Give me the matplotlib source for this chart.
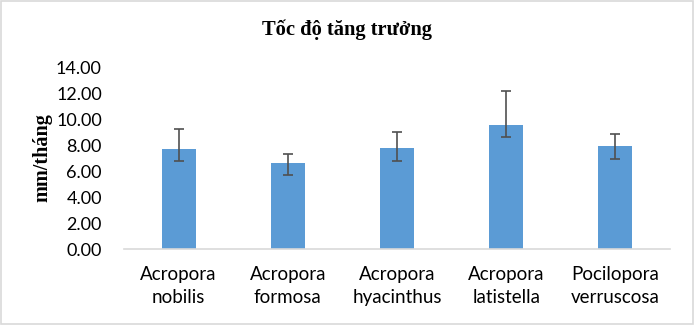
import matplotlib
matplotlib.use("Agg")
import matplotlib.pyplot as plt
from matplotlib.patches import Rectangle
import numpy as np

categories = ["Acropora\nnobilis", "Acropora\nformosa", "Acropora\nhyacinthus",
              "Acropora\nlatistella", "Pocilopora\nverruscosa"]
values = [7.71, 6.64, 7.79, 9.56, 7.95]
err_upper = [1.52, 0.67, 1.21, 2.59, 0.90]
err_lower = [0.94, 0.95, 1.02, 0.95, 1.03]
yticks = [0, 2, 4, 6, 8, 10, 12, 14]

fig = plt.figure(figsize=(6.94, 3.28), dpi=100)
ax = fig.add_axes([124/694, 1-249/328, 546/694, 182/328])

x = np.arange(len(categories))
ax.bar(x, values, width=0.31, color="#5B9BD5", zorder=2)
ax.errorbar(x, values, yerr=[err_lower, err_upper], fmt="none",
            ecolor="#505050", elinewidth=1.2, capsize=3.8, capthick=1.2, zorder=3)

ax.set_xlim(-0.5, len(categories) - 0.5)
ax.set_ylim(0, 14)
ax.set_yticks(yticks)
ax.set_yticklabels([f"{v:.2f}" for v in yticks])
ax.set_xticks(x)
ax.set_xticklabels(categories, linespacing=1.45)

for s in ["top", "right", "left"]:
    ax.spines[s].set_visible(False)
ax.spines["bottom"].set_color("#D9D9D9")
ax.spines["bottom"].set_linewidth(1.2)
ax.tick_params(axis="x", length=0, labelsize=13.5, colors="#000000", pad=12)
ax.tick_params(axis="y", length=0, labelsize=13, colors="#000000", pad=16)
for lab in ax.get_xticklabels() + ax.get_yticklabels():
    lab.set_fontfamily("Lato")

ax.set_ylabel("mm/tháng", fontfamily="Liberation Serif", fontweight="bold",
              fontsize=14.5)
ax.yaxis.set_label_coords((42 - 124) / 546, 0.5)
ax.yaxis.label.set_va("center")

fig.text(347/694, 1-30/328, "Tốc độ tăng trưởng", ha="center", va="center",
         fontfamily="Liberation Serif", fontweight="bold", fontsize=14.8)

fig.patches.append(Rectangle((0.5/694, 1-324/328), 692/694, 323.5/328,
                             transform=fig.transFigure, fill=False,
                             edgecolor="#D9D9D9", linewidth=1.2))

fig.savefig("out.png", dpi=100)
